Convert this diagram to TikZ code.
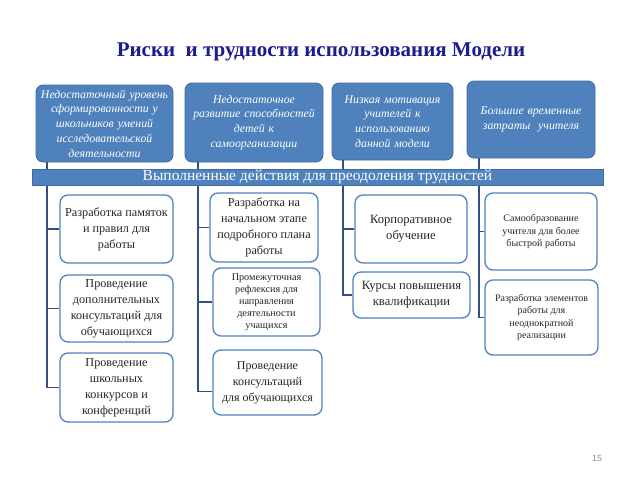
\documentclass[tikz,border=0pt]{standalone}
\usepackage{fontspec}
\setmainfont{Liberation Serif}
\newfontfamily\numfont{Liberation Sans}
\usetikzlibrary{calc}
\definecolor{topfill}{HTML}{4F81BD}
\definecolor{topdraw}{HTML}{3E6BA3}
\definecolor{linecol}{HTML}{2F5080}
\definecolor{titlecol}{HTML}{1C1C8E}
\tikzset{
  topbox/.style={draw=topdraw, line width=0.8pt, fill=topfill, rounded corners=7pt,
    text=white, align=center, inner sep=1pt, font=\itshape\fontsize{11.8}{14.8}\selectfont},
  childbox/.style={draw=topfill, line width=1.3pt, fill=white, rounded corners=8pt,
    text=black!85, align=center, inner sep=1pt, font=\fontsize{12.2}{16}\selectfont},
  conn/.style={draw=linecol, line width=1.8pt},
  banner/.style={draw=topdraw, line width=0.8pt, fill=topfill, text=white,
    font=\fontsize{15.5}{16}\selectfont, inner sep=0pt}
}
\begin{document}
\begin{tikzpicture}[x=1pt,y=-1pt]
\useasboundingbox (0,0) rectangle (640,480);
\node[font=\bfseries\fontsize{21}{24}\selectfont, text=titlecol] (title) at (321,52) {Риски\ \ и трудности использования Модели};
\node[font=\numfont\fontsize{9}{10}\selectfont, text=black!45] (pg) at (597,458) {15};

% top boxes
\node[topbox, minimum width=137pt, minimum height=77pt, text width=135pt] (t1) at (104.5,123.5)
  {Недостаточный уровень\\сформированности у\\школьников умений\\исследовательской\\деятельности};
\node[topbox, minimum width=138pt, minimum height=79pt, text width=134pt] (t2) at (254,122.5)
  {Недостаточное\\развитие способностей\\детей к\\самоорганизации};
\node[topbox, minimum width=121pt, minimum height=77pt, text width=117pt] (t3) at (392.5,121.5)
  {Низкая мотивация\\учителей к\\использованию\\данной модели};
\node[topbox, minimum width=128pt, minimum height=77pt, text width=124pt] (t4) at (531,119.5)
  {Большие временные\\затраты\ \ учителя};

% children column 1
\node[childbox, minimum width=113pt, minimum height=68pt] (c11) at (116.5,229)
  {Разработка памяток\\и правил для\\работы};
\node[childbox, minimum width=113pt, minimum height=67pt] (c12) at (116.5,308.5)
  {Проведение\\дополнительных\\консультаций для\\обучающихся};
\node[childbox, minimum width=113pt, minimum height=69pt] (c13) at (116.5,387.5)
  {Проведение\\школьных\\конкурсов и\\конференций};

% column 2
\node[childbox, minimum width=108pt, minimum height=69pt] (c21) at (264,227.5)
  {Разработка на\\начальном этапе\\подробного плана\\работы};
\node[childbox, minimum width=107pt, minimum height=68pt, font=\fontsize{10.2}{12}\selectfont] (c22) at (266.5,302)
  {Промежуточная\\рефлексия для\\направления\\деятельности\\учащихся};
\node[childbox, minimum width=109pt, minimum height=65pt, font=\fontsize{12}{16}\selectfont] (c23) at (267.5,382.5)
  {Проведение\\консультаций\\для обучающихся};

% column 3
\node[childbox, minimum width=112pt, minimum height=68pt, font=\fontsize{12.6}{16}\selectfont] (c31) at (411,229)
  {Корпоративное\\обучение};
\node[childbox, minimum width=117pt, minimum height=46pt, font=\fontsize{12.6}{16}\selectfont] (c32) at (411.5,295)
  {Курсы повышения\\квалификации};

% column 4
\node[childbox, minimum width=112pt, minimum height=77pt, font=\fontsize{10}{12.5}\selectfont] (c41) at (541,231.5)
  {Самообразование\\учителя для более\\быстрой работы};
\node[childbox, minimum width=113pt, minimum height=75pt, font=\fontsize{10}{12.5}\selectfont] (c42) at (541.5,317.5)
  {Разработка элементов\\работы для\\неоднократной\\реализации};

% connectors
\coordinate (s1) at ($(t1.south west)+(11,0)$);
\coordinate (s2) at ($(t2.south west)+(13,0)$);
\coordinate (s3) at ($(t3.south west)+(11,0)$);
\coordinate (s4) at ($(t4.south west)+(12,0)$);
\draw[conn] (s1) |- (c11.west);
\draw[conn] (s1) |- (c12.west);
\draw[conn] (s1) |- (c13.west);
\draw[conn] (s2) |- (c21.west);
\draw[conn] (s2) |- (c22.west);
\draw[conn] (s2) |- ([yshift=-9pt]c23.west);
\draw[conn] (s3) |- (c31.west);
\draw[conn] (s3) |- (c32.west);
\draw[conn] (s4) |- (c41.west);
\draw[conn] (s4) |- (c42.west);

% banner
\node[banner, minimum width=571pt, minimum height=16pt] (bn) at (317.5,177)
  {Выполненные действия для преодоления трудностей};
\end{tikzpicture}
\end{document}
